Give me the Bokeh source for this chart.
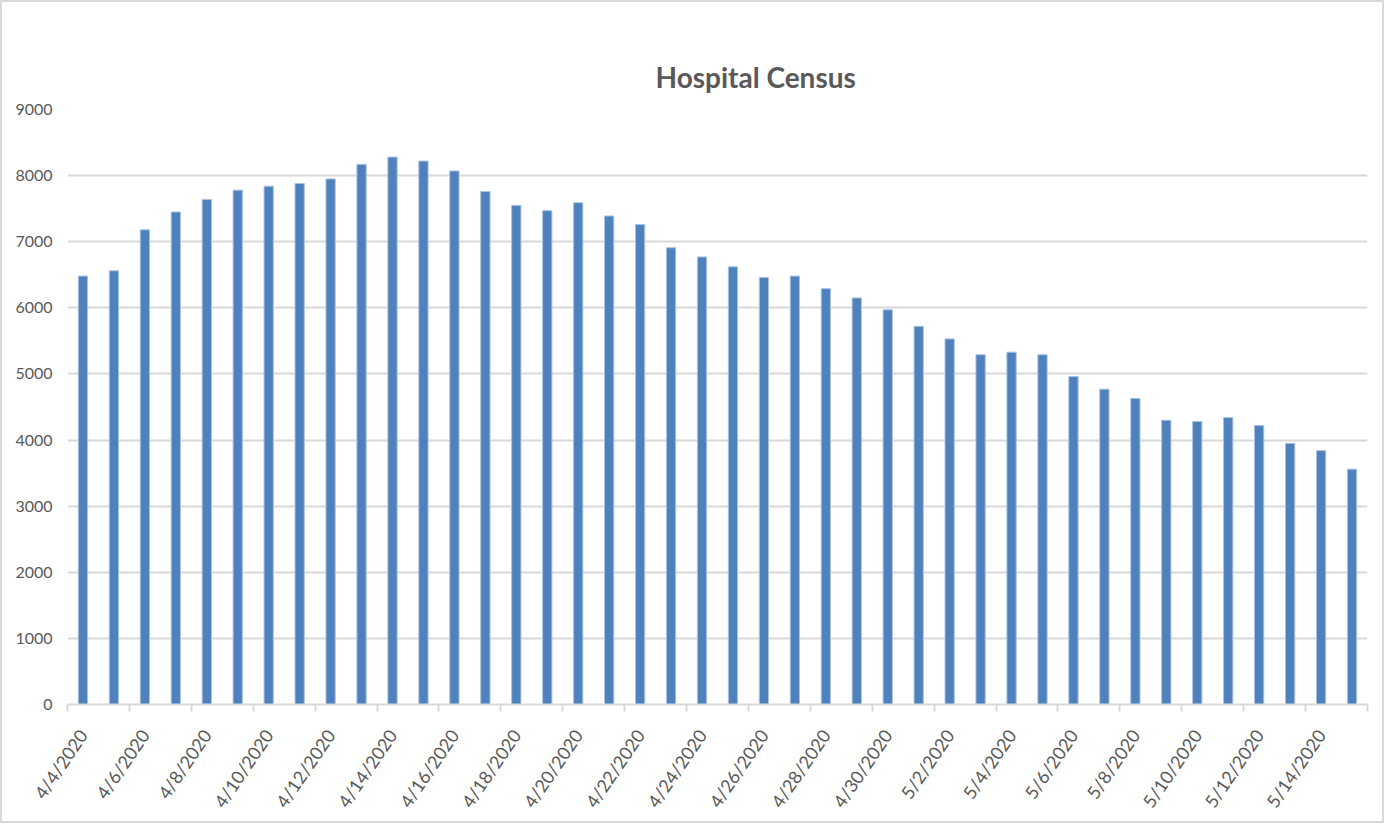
from bokeh.plotting import figure
from bokeh.models import FixedTicker, LinearAxis, Range1d, ColumnDataSource
from bokeh.embed import file_html
from bokeh.resources import INLINE

dates = ["4/4/2020", "4/5/2020", "4/6/2020", "4/7/2020", "4/8/2020", "4/9/2020",
         "4/10/2020", "4/11/2020", "4/12/2020", "4/13/2020", "4/14/2020", "4/15/2020",
         "4/16/2020", "4/17/2020", "4/18/2020", "4/19/2020", "4/20/2020", "4/21/2020",
         "4/22/2020", "4/23/2020", "4/24/2020", "4/25/2020", "4/26/2020", "4/27/2020",
         "4/28/2020", "4/29/2020", "4/30/2020", "5/1/2020", "5/2/2020", "5/3/2020",
         "5/4/2020", "5/5/2020", "5/6/2020", "5/7/2020", "5/8/2020", "5/9/2020",
         "5/10/2020", "5/11/2020", "5/12/2020", "5/13/2020", "5/14/2020", "5/15/2020"]
census = [6480, 6560, 7180, 7450, 7640, 7780, 7840, 7880, 7950, 8170, 8280, 8220,
          8070, 7760, 7550, 7470, 7590, 7390, 7260, 6910, 6770, 6620, 6460, 6480,
          6290, 6150, 5970, 5720, 5530, 5290, 5330, 5290, 4960, 4770, 4630, 4300,
          4280, 4340, 4220, 3950, 3840, 3560]
y_ticks = [0, 1000, 2000, 3000, 4000, 5000, 6000, 7000, 8000, 9000]
title_text = "Hospital Census"

FONT = "Lato"
GRAY = "#595959"
LINE = "#d9d9d9"

n = len(dates)
xs = list(range(n))
src = ColumnDataSource(dict(x=xs, census=census, date=dates))

p = figure(width=1384, height=823, output_backend="svg", toolbar_location=None,
           x_range=Range1d(-0.5, n - 0.5), y_range=Range1d(0, y_ticks[-1]),
           min_border_left=65, min_border_right=19, min_border_top=107,
           min_border_bottom=121, title=title_text)
p.styles = {"border": "2px solid #d9d9d9"}
p.outline_line_color = None

p.vbar(x="x", top="census", width=0.3, source=src,
       fill_color="#4f81bd", line_color="#a9c3e3", line_width=1)

# title
p.title.align = "left"
p.title.offset = 588
p.title.standoff = 32
p.title.text_font = FONT
p.title.text_font_style = "bold"
p.title.text_font_size = "28px"
p.title.text_color = GRAY

# y axis
p.yaxis.ticker = FixedTicker(ticks=y_ticks)
p.yaxis.axis_line_color = None
p.yaxis.major_tick_line_color = None
p.yaxis.minor_tick_line_color = None
p.yaxis.major_tick_out = 0
p.yaxis.major_label_standoff = 15
p.yaxis.major_label_text_font = FONT
p.yaxis.major_label_text_font_size = "16px"
p.yaxis.major_label_text_color = GRAY

p.ygrid.ticker = FixedTicker(ticks=y_ticks)
p.ygrid.grid_line_color = LINE
p.ygrid.grid_line_width = 2
p.xgrid.visible = False

# x axis: tick marks at category boundaries
bounds = [i - 0.5 for i in range(0, n + 1, 2)]
ax0 = p.xaxis[0]
ax0.ticker = FixedTicker(ticks=bounds)
ax0.major_label_overrides = {b: "" for b in bounds}
ax0.major_label_text_font_size = "1px"
ax0.major_label_standoff = 0
ax0.axis_line_color = LINE
ax0.axis_line_width = 2
ax0.major_tick_line_color = LINE
ax0.major_tick_line_width = 2
ax0.major_tick_in = 0
ax0.major_tick_out = 7
ax0.minor_tick_line_color = None

# x axis: labels at every other category
centers = list(range(0, n, 2))
ax1 = LinearAxis(ticker=FixedTicker(ticks=centers),
                 major_label_overrides={i: dates[i] for i in centers})
ax1.axis_line_color = None
ax1.major_tick_line_color = None
ax1.minor_tick_line_color = None
ax1.major_tick_out = 0
ax1.major_tick_in = 0
ax1.major_label_standoff = 20
ax1.major_label_orientation = 0.97
ax1.major_label_text_font = FONT
ax1.major_label_text_font_size = "18px"
ax1.major_label_text_color = GRAY
p.add_layout(ax1, "below")

open("out.html", "w").write(file_html(p, INLINE))
